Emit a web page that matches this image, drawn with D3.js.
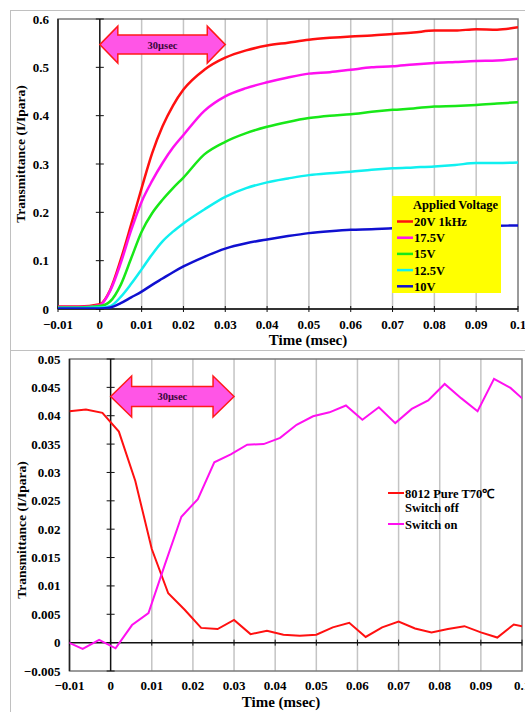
<!DOCTYPE html>
<html>
<head>
<meta charset="utf-8">
<script src="https://cdn.jsdelivr.net/npm/d3@7"></script>
<style>
  body { margin: 0; background: #fff; }
  svg { display: block; }
  text { font-family: "Liberation Serif", "Times New Roman", serif; font-weight: bold; }
</style>
</head>
<body>
<script>
const canvasWidth = 525,
  canvasHeight = 712;

// ---- top chart data (rise curves per applied voltage) ----
const riseTimes = [-0.01, -0.005, 0, 0.0025, 0.005, 0.0075, 0.01, 0.0125, 0.015, 0.0175, 0.02,
  0.025, 0.03, 0.035, 0.04, 0.045, 0.05, 0.055, 0.06, 0.065, 0.07, 0.075, 0.08, 0.085, 0.09, 0.095, 0.1];
const v20 = [0.005, 0.005, 0.01, 0.04, 0.102, 0.175, 0.25, 0.322, 0.378, 0.421, 0.454,
  0.495, 0.52, 0.535, 0.545, 0.551, 0.557, 0.561, 0.564, 0.566, 0.569, 0.572, 0.576, 0.576, 0.579, 0.578, 0.583];
const v175 = [0.004, 0.004, 0.008, 0.038, 0.095, 0.163, 0.222, 0.265, 0.302, 0.334, 0.36,
  0.41, 0.44, 0.457, 0.469, 0.479, 0.487, 0.49, 0.495, 0.5, 0.502, 0.506, 0.509, 0.511, 0.513, 0.514, 0.518];
const v15 = [0.003, 0.003, 0.006, 0.016, 0.05, 0.105, 0.16, 0.198, 0.226, 0.25, 0.272,
  0.32, 0.346, 0.364, 0.377, 0.387, 0.395, 0.4, 0.403, 0.408, 0.412, 0.415, 0.419, 0.42, 0.422, 0.425, 0.428];
const v125 = [0.002, 0.002, 0.003, 0.006, 0.025, 0.052, 0.082, 0.113, 0.14, 0.16, 0.177,
  0.206, 0.232, 0.25, 0.262, 0.27, 0.277, 0.281, 0.284, 0.288, 0.291, 0.293, 0.295, 0.298, 0.302, 0.302, 0.303];
const v10 = [0.001, 0.001, 0.001, 0.003, 0.012, 0.024, 0.036, 0.05, 0.063, 0.076, 0.088,
  0.108, 0.125, 0.136, 0.144, 0.151, 0.157, 0.161, 0.164, 0.165, 0.167, 0.168, 0.169, 0.17, 0.171, 0.172, 0.173];
const voltageLabels = ["20V 1kHz", "17.5V", "15V", "12.5V", "10V"];
const voltageColors = ["#ff1010", "#ff10f0", "#18e818", "#10f0f0", "#1010d0"];

// ---- bottom chart data (switch off / switch on) ----
const offTimes = [-0.01, -0.006, -0.002, 0.002, 0.006, 0.01, 0.014, 0.018, 0.022, 0.026, 0.03, 0.034,
  0.038, 0.042, 0.046, 0.05, 0.054, 0.058, 0.062, 0.066, 0.07, 0.074, 0.078, 0.082, 0.086, 0.09,
  0.094, 0.098, 0.102];
const offValues = [0.0408, 0.0411, 0.0405, 0.0372, 0.0285, 0.0165, 0.0087, 0.0058, 0.0026, 0.0024, 0.004,
  0.0015, 0.0021, 0.0014, 0.0012, 0.0014, 0.0027, 0.0035, 0.001, 0.0027, 0.0037, 0.0025, 0.0018,
  0.0024, 0.0029, 0.0018, 0.0009, 0.0032, 0.0026];
const onTimes = [-0.0108, -0.0068, -0.0028, 0.0012, 0.0052, 0.0092, 0.0132, 0.0172, 0.0212, 0.0252,
  0.0292, 0.0332, 0.0372, 0.0412, 0.0452, 0.0492, 0.0532, 0.0572, 0.0612, 0.0652, 0.0692, 0.0732,
  0.0772, 0.0812, 0.0852, 0.0892, 0.0932, 0.0972, 0.1012];
const onValues = [0.0002, -0.0011, 0.0005, -0.001, 0.0031, 0.0052, 0.0138, 0.0222, 0.0253, 0.0318,
  0.0332, 0.0349, 0.035, 0.0361, 0.0384, 0.0399, 0.0406, 0.0418, 0.0393, 0.0415, 0.0387, 0.0412,
  0.0427, 0.0456, 0.0431, 0.0408, 0.0465, 0.0449, 0.0423];
const switchLabels = ["8012 Pure T70\u2103", "Switch on"];
const switchColors = ["#ff1010", "#ff10f0"];

// ---- shared ticks ----
const xTicks = d3.range(-0.01, 0.1001, 0.01).map(d => +d.toFixed(2));
const topYTicks = [0, 0.1, 0.2, 0.3, 0.4, 0.5, 0.6];
const bottomYTicks = d3.range(-0.005, 0.0501, 0.005).map(d => +d.toFixed(3));
const arrowSpan = [0, 0.03];

const svg = d3
  .select("body")
  .append("svg")
  .attr("width", canvasWidth)
  .attr("height", canvasHeight);

// outer chart-area frames
svg.append("rect").attr("x", 10.5).attr("y", 10.5).attr("width", 530).attr("height", 340)
  .attr("fill", "none").attr("stroke", "#c0c0c0");
svg.append("rect").attr("x", 10.5).attr("y", 350.5).attr("width", 530).attr("height", 380)
  .attr("fill", "none").attr("stroke", "#c0c0c0");

function xLabel(d) {
  return d === 0 ? "0" : d3.format("")(d);
}

function drawFrame(g, x, y, opts) {
  const [x0, x1] = x.range();
  const [y0, y1] = y.range();

  // vertical grid lines
  g.selectAll("line.grid")
    .data(xTicks.filter(d => d > -0.01 && d < 0.1 && d !== 0))
    .enter()
    .append("line")
    .classed("grid", true)
    .attr("x1", d => x(d)).attr("x2", d => x(d))
    .attr("y1", y1).attr("y2", y0)
    .attr("stroke", "#c4c4c4")
    .attr("stroke-width", 1.5);

  // plot border
  g.append("rect")
    .attr("x", x0).attr("y", y1)
    .attr("width", x1 - x0).attr("height", y0 - y1)
    .attr("fill", "none")
    .attr("stroke", "#7a7a7a")
    .attr("stroke-width", 1.5);
  g.append("line").attr("x1", x0).attr("x2", x0).attr("y1", y1).attr("y2", y0)
    .attr("stroke", "#222").attr("stroke-width", 1.5);

  // horizontal axis at y = 0 with ticks
  const yz = y(0);
  g.append("line").attr("x1", x0).attr("x2", x1).attr("y1", yz).attr("y2", yz)
    .attr("stroke", "#111").attr("stroke-width", 1.5);
  g.selectAll("line.xtick")
    .data(xTicks)
    .enter()
    .append("line")
    .classed("xtick", true)
    .attr("x1", d => x(d)).attr("x2", d => x(d))
    .attr("y1", yz - 3).attr("y2", yz + 3)
    .attr("stroke", "#111");

  // vertical axis at x = 0 with crossing ticks
  const xz = x(0);
  g.append("line").attr("x1", xz).attr("x2", xz).attr("y1", y1).attr("y2", y0)
    .attr("stroke", "#111").attr("stroke-width", 1.5);
  g.selectAll("line.ytick")
    .data(opts.yTicks)
    .enter()
    .append("line")
    .classed("ytick", true)
    .attr("x1", xz - 4).attr("x2", xz + 4)
    .attr("y1", d => y(d)).attr("y2", d => y(d))
    .attr("stroke", "#111");

  // tick labels (low position)
  g.selectAll("text.ylab")
    .data(opts.yTicks)
    .enter()
    .append("text")
    .classed("ylab", true)
    .attr("x", x0 - 9)
    .attr("y", d => y(d) + 4.5)
    .attr("text-anchor", "end")
    .attr("font-size", 13)
    .text(opts.yFormat);
  g.selectAll("text.xlab")
    .data(xTicks)
    .enter()
    .append("text")
    .classed("xlab", true)
    .attr("x", d => x(d))
    .attr("y", opts.xLabelY)
    .attr("text-anchor", "middle")
    .attr("font-size", 13)
    .text(xLabel);

  // axis titles
  g.append("text")
    .attr("x", opts.xTitle[0]).attr("y", opts.xTitle[1])
    .attr("text-anchor", "middle")
    .attr("font-size", 15)
    .text("Time (msec)");
  g.append("text")
    .attr("transform", `translate(${opts.yTitle[0]},${opts.yTitle[1]}) rotate(-90)`)
    .attr("text-anchor", "middle")
    .attr("font-size", 13.5)
    .text("Transmittance (I/Ipara)");
}

function drawArrow(g, x, y, level, head, body, headLen) {
  const xa = x(arrowSpan[0]),
    xb = x(arrowSpan[1]),
    yc = y(level);
  const pts = [
    [xa, yc], [xa + headLen, yc - head], [xa + headLen, yc - body],
    [xb - headLen, yc - body], [xb - headLen, yc - head], [xb, yc],
    [xb - headLen, yc + head], [xb - headLen, yc + body], [xa + headLen, yc + body],
    [xa + headLen, yc + head]
  ];
  g.append("polygon")
    .attr("points", pts.map(p => p.join(",")).join(" "))
    .attr("fill", "#ff55e6")
    .attr("stroke", "#ff1a1a")
    .attr("stroke-width", 1.5);
  g.append("text")
    .attr("x", (xa + xb) / 2)
    .attr("y", yc + 4)
    .attr("text-anchor", "middle")
    .attr("font-family", "'Noto Sans', 'DejaVu Sans', sans-serif")
    .attr("font-size", 10.5)
    .attr("fill", "#3a0838")
    .text("30\u03bcsec");
}

// ================= top chart =================
const topChart = svg.append("g");
const xTop = d3.scaleLinear().domain([-0.01, 0.1]).range([58, 518]);
const yTop = d3.scaleLinear().domain([0, 0.6]).range([309, 19]);

drawFrame(topChart, xTop, yTop, {
  yTicks: topYTicks,
  yFormat: d => (d === 0 ? "0" : d3.format(".1f")(d)),
  xLabelY: 329,
  xTitle: [308, 345],
  yTitle: [25, 154]
});

topChart.append("clipPath").attr("id", "clip-top").append("rect")
  .attr("x", 58).attr("y", 19).attr("width", 460).attr("height", 290);

const topSeries = [v20, v175, v15, v125, v10];
const topLine = d3
  .line()
  .x((d, i) => xTop(riseTimes[i]))
  .y(d => yTop(d))
  .curve(d3.curveMonotoneX);

topChart.append("g")
  .attr("clip-path", "url(#clip-top)")
  .selectAll("path")
  .data(topSeries)
  .enter()
  .append("path")
  .attr("d", topLine)
  .attr("fill", "none")
  .attr("stroke", (d, i) => voltageColors[i])
  .attr("stroke-width", 2.5);

drawArrow(topChart, xTop, yTop, 0.547, 18.5, 9.5, 18);

// legend box
const legTop = topChart.append("g").attr("transform", "translate(392,196)");
legTop.append("rect").attr("width", 109).attr("height", 97).attr("fill", "#ffff00");
legTop.append("text").attr("x", 21).attr("y", 13).attr("font-size", 12.5).text("Applied Voltage");
voltageLabels.forEach((lab, i) => {
  const yy = 25.5 + i * 16.2;
  legTop.append("line").attr("x1", 5).attr("x2", 21).attr("y1", yy).attr("y2", yy)
    .attr("stroke", voltageColors[i]).attr("stroke-width", 2.5);
  legTop.append("text").attr("x", 22).attr("y", yy + 4.5).attr("font-size", 12.5).text(lab);
});

// ================= bottom chart =================
const bottomChart = svg.append("g");
const xBot = d3.scaleLinear().domain([-0.01, 0.1]).range([69.5, 522]);
const yBot = d3.scaleLinear().domain([-0.005, 0.05]).range([671, 359]);

drawFrame(bottomChart, xBot, yBot, {
  yTicks: bottomYTicks,
  yFormat: d => (d === 0 ? "0" : d3.format("")(d)),
  xLabelY: 690,
  xTitle: [281, 707],
  yTitle: [26, 530]
});

bottomChart.append("clipPath").attr("id", "clip-bot").append("rect")
  .attr("x", 69.5).attr("y", 359).attr("width", 452.5).attr("height", 312);

const botLine = d3
  .line()
  .x(d => xBot(d[0]))
  .y(d => yBot(d[1]));

const botSeries = [
  d3.zip(offTimes, offValues),
  d3.zip(onTimes, onValues)
];

bottomChart.append("g")
  .attr("clip-path", "url(#clip-bot)")
  .selectAll("path")
  .data(botSeries)
  .enter()
  .append("path")
  .attr("d", botLine)
  .attr("fill", "none")
  .attr("stroke", (d, i) => switchColors[i])
  .attr("stroke-width", 2);

drawArrow(bottomChart, xBot, yBot, 0.0434, 20.5, 10, 21);

// legend (no box)
const legBot = bottomChart.append("g").attr("transform", "translate(388,0)");
[[493, 0], [524, 1]].forEach(([yy, i]) => {
  legBot.append("line").attr("x1", 0).attr("x2", 16).attr("y1", yy).attr("y2", yy)
    .attr("stroke", switchColors[i]).attr("stroke-width", 2);
  legBot.append("text").attr("x", 17).attr("y", yy + 4.5).attr("font-size", 12.5).text(switchLabels[i]);
});
legBot.append("text").attr("x", 17).attr("y", 512).attr("font-size", 12.5).text("Switch off");
</script>
</body>
</html>
